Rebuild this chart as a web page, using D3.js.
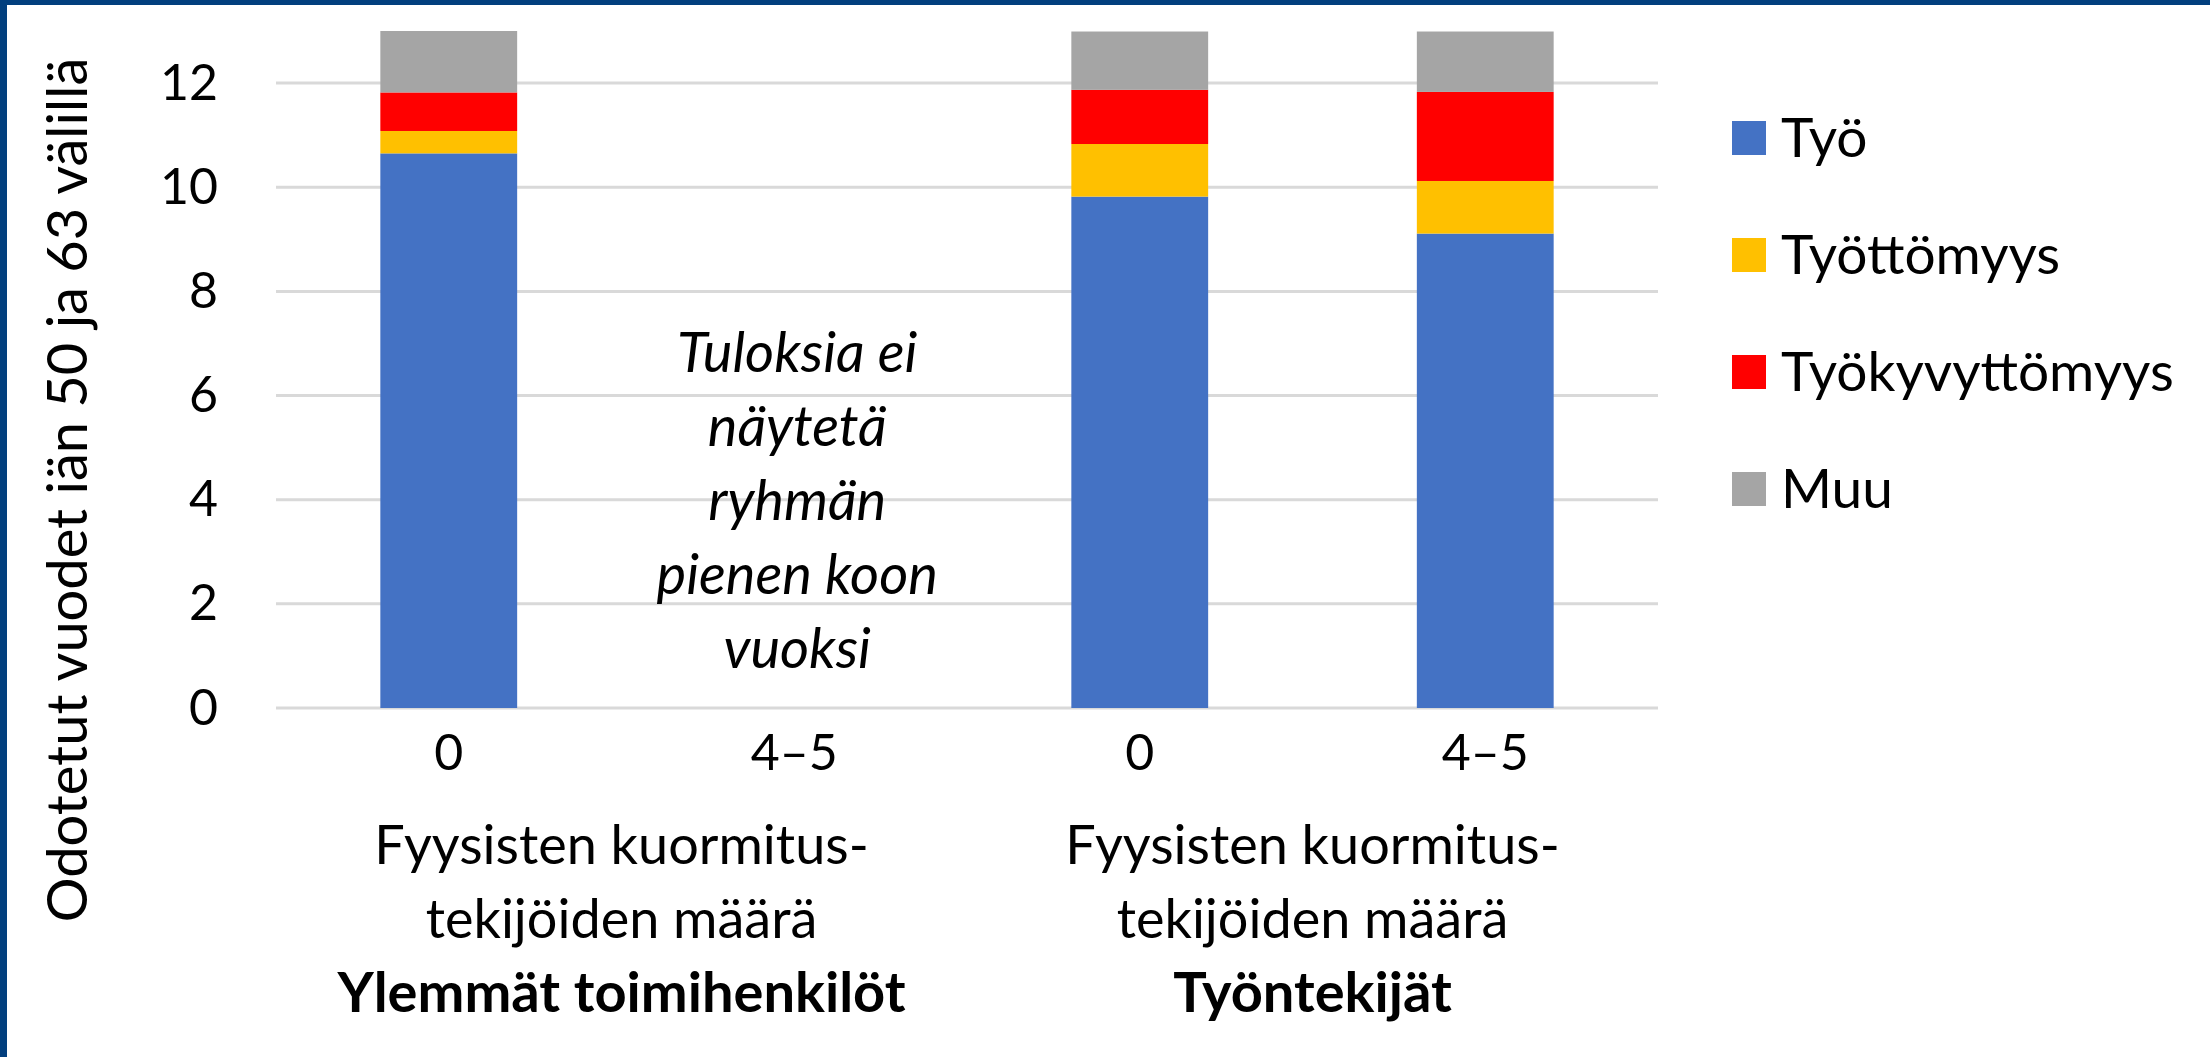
<!DOCTYPE html>
<html>
<head>
<meta charset="utf-8">
<script src="https://cdn.jsdelivr.net/npm/d3@7"></script>
<style>
  html, body { margin: 0; padding: 0; background: #fff; }
  svg { display: block; font-family: Lato, "Open Sans", sans-serif; }
</style>
</head>
<body>
<svg id="chart" width="2210" height="1057"></svg>
<script>
// Data
const categories = ["Ylemmät 0", "Ylemmät 4–5", "Työntekijät 0", "Työntekijät 4–5"];
const tickLabels = ["0", "4–5", "0", "4–5"];
const seriesNames = ["Työ", "Työttömyys", "Työkyvyttömyys", "Muu"];
const seriesColors = ["#4472C4", "#FFC000", "#FF0000", "#A5A5A5"];

const tyo            = [10.65, null, 9.82, 9.11];
const tyottomyys     = [0.43,  null, 1.01, 1.01];
const tyokyvyttomyys = [0.74,  null, 1.04, 1.71];
const muu            = [1.18,  null, 1.12, 1.16];

const yTicks = [0, 2, 4, 6, 8, 10, 12];
const groupNames = ["Ylemmät toimihenkilöt", "Työntekijät"];
const groupSubLines = ["Fyysisten kuormitus-", "tekijöiden määrä"];
const noteLines = ["Tuloksia ei", "näytetä", "ryhmän", "pienen koon", "vuoksi"];
const yTitle = "Odotetut vuodet iän 50 ja 63 välillä";

// Layout
const svg = d3.select("#chart");
const plot = { left: 276, right: 1658, top: 31, bottom: 708 };
const border = "#023F7E";

svg.append("rect").attr("width", 2210).attr("height", 1057).attr("fill", "#fff");
svg.append("rect").attr("x", 0).attr("y", 0).attr("width", 7).attr("height", 1057).attr("fill", border);
svg.append("rect").attr("x", 0).attr("y", 0).attr("width", 2210).attr("height", 5).attr("fill", border);

const x = d3.scaleBand()
    .domain(categories)
    .range([plot.left, plot.right])
    .paddingInner(0.604)
    .paddingOuter(0.302);

const y = d3.scaleLinear()
    .domain([0, 13])
    .range([plot.bottom, plot.top]);

// gridlines
svg.append("g")
    .selectAll("line")
    .data(yTicks)
    .enter()
    .append("line")
    .attr("x1", plot.left)
    .attr("x2", plot.right)
    .attr("y1", d => y(d))
    .attr("y2", d => y(d))
    .attr("stroke", "#D9D9D9")
    .attr("stroke-width", 3);

// stacked bars
const rows = categories.map((c, i) => ({
    cat: c,
    "Työ": tyo[i],
    "Työttömyys": tyottomyys[i],
    "Työkyvyttömyys": tyokyvyttomyys[i],
    "Muu": muu[i]
})).filter(d => d["Työ"] != null);

const stacked = d3.stack().keys(seriesNames)(rows);

svg.append("g")
    .selectAll("g")
    .data(stacked)
    .enter()
    .append("g")
    .attr("fill", (d, i) => seriesColors[i])
    .selectAll("rect")
    .data(d => d)
    .enter()
    .append("rect")
    .attr("x", d => x(d.data.cat))
    .attr("width", x.bandwidth())
    .attr("y", d => y(d[1]))
    .attr("height", d => y(d[0]) - y(d[1]));

// y axis
const yAxis = svg.append("g")
    .attr("transform", `translate(${plot.left},0)`)
    .call(d3.axisLeft(y).tickValues(yTicks).tickSize(0).tickPadding(58));
yAxis.select(".domain").remove();
yAxis.selectAll("text")
    .attr("font-family", "Lato")
    .attr("font-size", 50)
    .attr("fill", "#000");

// x axis
const xAxis = svg.append("g")
    .attr("transform", `translate(0,${plot.bottom})`)
    .call(d3.axisBottom(x).tickSize(0).tickFormat((d, i) => tickLabels[i]));
xAxis.select(".domain").remove();
xAxis.selectAll("text")
    .attr("y", 62)
    .attr("dy", null)
    .attr("font-family", "Lato")
    .attr("font-size", 50)
    .attr("fill", "#000");

// group labels
groupNames.forEach((name, g) => {
    const cx = (x(categories[g * 2]) + x(categories[g * 2 + 1]) + x.bandwidth()) / 2;
    const lab = svg.append("text")
        .attr("text-anchor", "middle")
        .attr("font-size", 54)
        .attr("fill", "#000");
    groupSubLines.forEach((line, k) => {
        lab.append("tspan").attr("x", cx).attr("y", 864 + k * 74).text(line);
    });
    lab.append("tspan")
        .attr("x", cx)
        .attr("y", 864 + 2 * 74)
        .attr("font-weight", "bold")
        .attr("font-size", 56)
        .text(name);
});

// note for the hidden group
const noteX = x(categories[1]) + x.bandwidth() / 2;
const note = svg.append("text")
    .attr("text-anchor", "middle")
    .attr("font-style", "italic")
    .attr("font-size", 56)
    .attr("fill", "#000");
noteLines.forEach((line, k) => {
    note.append("tspan").attr("x", noteX + 3).attr("y", 372 + k * 74).text(line);
});

// y title
svg.append("text")
    .attr("transform", "translate(87,490) rotate(-90)")
    .attr("text-anchor", "middle")
    .attr("font-size", 56)
    .attr("fill", "#000")
    .text(yTitle);

// legend
const legend = svg.append("g")
    .selectAll("g")
    .data(seriesNames)
    .enter()
    .append("g")
    .attr("transform", (d, i) => `translate(1732,${138 + i * 117})`);

legend.append("rect")
    .attr("x", 0)
    .attr("y", -17)
    .attr("width", 34)
    .attr("height", 34)
    .attr("fill", (d, i) => seriesColors[i]);

legend.append("text")
    .attr("x", 49)
    .attr("y", 19)
    .attr("font-size", 55)
    .attr("fill", "#000")
    .text(d => d);
</script>
</body>
</html>
